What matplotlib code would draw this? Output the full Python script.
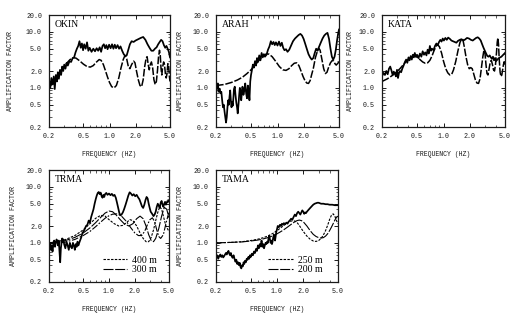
import numpy as np
import matplotlib
matplotlib.use("Agg")
import matplotlib.pyplot as plt
from matplotlib.ticker import NullFormatter, FixedLocator

# ---- data ----
okin_f = [0.200, 0.207, 0.213, 0.220, 0.227, 0.233, 0.240, 0.247, 0.253, 0.260, 0.268, 0.276, 0.284,
          0.292, 0.300, 0.310, 0.320, 0.330, 0.345, 0.360, 0.375, 0.390, 0.405, 0.420, 0.435, 0.450,
          0.465, 0.480, 0.495, 0.510, 0.530, 0.550, 0.570, 0.590, 0.620, 0.650, 0.680, 0.710, 0.740,
          0.770, 0.800, 0.830, 0.860, 0.890, 0.920, 0.950, 0.990, 1.030, 1.070, 1.110, 1.150, 1.190,
          1.240, 1.290, 1.340, 1.400, 1.460, 1.520, 1.580, 1.650, 1.720, 1.800, 1.900, 2.000, 2.150,
          2.300, 2.450, 2.600, 2.750, 2.900, 3.050, 3.200, 3.350, 3.500, 3.650, 3.800, 3.950, 4.100,
          4.250, 4.400, 4.550, 4.700, 4.850, 5.000]
okin_obs = [1.40, 1.00, 1.50, 1.15, 1.60, 0.95, 1.70, 1.30, 1.90, 1.45, 2.10, 1.70, 2.40,
            2.00, 2.60, 2.20, 2.80, 2.50, 3.00, 2.90, 3.40, 3.50, 4.30, 5.00, 5.60, 6.80,
            5.20, 6.20, 4.70, 6.00, 5.00, 6.50, 4.60, 5.20, 4.40, 5.00, 4.50, 5.10, 4.60,
            5.30, 4.40, 5.60, 6.00, 5.10, 5.80, 4.90, 5.90, 5.10, 6.00, 5.00, 5.90, 5.10,
            5.80, 5.00, 5.50, 4.60, 4.00, 3.70, 3.80, 4.80, 6.00, 6.80, 6.60, 7.00, 7.40,
            7.80, 8.10, 7.20, 6.00, 5.20, 4.60, 4.60, 5.00, 5.30, 6.00, 6.60, 7.20, 6.80,
            5.80, 5.20, 5.60, 5.00, 4.40, 3.50]
okin_mf = [0.200, 0.230, 0.260, 0.290, 0.320, 0.350, 0.380, 0.410, 0.450, 0.500, 0.550, 0.600, 0.650,
           0.700, 0.760, 0.800, 0.850, 0.900, 0.950, 1.000, 1.060, 1.130, 1.200, 1.280, 1.360, 1.440,
           1.510, 1.580, 1.650, 1.720, 1.800, 1.900, 1.970, 2.050, 2.150, 2.250, 2.350, 2.450, 2.550,
           2.650, 2.720, 2.800, 2.880, 2.960, 3.050, 3.150, 3.260, 3.370, 3.480, 3.580, 3.680, 3.780,
           3.860, 3.940, 4.020, 4.120, 4.220, 4.320, 4.420, 4.520, 4.620, 4.720, 4.820, 4.920, 5.000]
okin_mod = [1.02, 1.30, 1.75, 2.25, 2.75, 3.20, 3.45, 3.40, 3.05, 2.65, 2.40, 2.35, 2.50,
            2.85, 3.20, 3.10, 2.60, 2.00, 1.55, 1.25, 1.05, 1.00, 1.10, 1.50, 2.30, 3.20,
            3.80, 3.30, 2.40, 2.20, 2.60, 3.00, 2.80, 2.00, 1.40, 1.10, 1.05, 1.40, 2.40,
            3.40, 3.60, 2.60, 2.10, 2.60, 2.90, 2.30, 1.40, 1.15, 1.30, 2.00, 3.50, 4.70,
            3.80, 2.20, 1.70, 2.40, 2.90, 2.60, 1.80, 1.50, 1.80, 2.70, 2.50, 1.60, 1.30]

arah_f = [0.200, 0.205, 0.210, 0.215, 0.220, 0.225, 0.230, 0.235, 0.240, 0.245, 0.250, 0.255, 0.260,
          0.265, 0.270, 0.275, 0.280, 0.285, 0.290, 0.295, 0.300, 0.305, 0.310, 0.315, 0.320, 0.327,
          0.333, 0.340, 0.347, 0.353, 0.360, 0.367, 0.373, 0.380, 0.387, 0.393, 0.400, 0.410, 0.420,
          0.430, 0.440, 0.450, 0.460, 0.470, 0.480, 0.490, 0.500, 0.510, 0.525, 0.540, 0.555, 0.570,
          0.585, 0.600, 0.620, 0.640, 0.660, 0.680, 0.700, 0.720, 0.750, 0.780, 0.810, 0.840, 0.870,
          0.900, 0.930, 0.960, 1.000, 1.040, 1.080, 1.120, 1.160, 1.200, 1.250, 1.300, 1.360, 1.420,
          1.500, 1.580, 1.660, 1.740, 1.820, 1.900, 1.980, 2.060, 2.150, 2.250, 2.350, 2.450, 2.550,
          2.650, 2.750, 2.850, 2.950, 3.100, 3.250, 3.400, 3.550, 3.700, 3.850, 4.000, 4.150, 4.300,
          4.450, 4.600, 4.750, 4.900, 5.000]
arah_obs = [0.75, 1.10, 1.20, 0.85, 0.95, 0.80, 0.85, 0.60, 0.45, 0.50, 0.38, 0.30, 0.24,
            0.30, 0.45, 0.60, 0.50, 0.70, 0.90, 0.60, 0.45, 0.55, 0.48, 0.65, 0.95, 1.05,
            0.75, 0.55, 0.45, 0.35, 0.50, 0.75, 1.00, 0.90, 0.60, 0.80, 1.05, 0.75, 0.90,
            1.20, 0.80, 0.65, 1.10, 0.90, 0.60, 1.30, 1.70, 2.00, 2.60, 2.30, 3.00, 2.50,
            3.40, 2.90, 3.80, 3.10, 4.20, 3.50, 4.00, 3.60, 3.90, 4.80, 5.50, 6.80, 6.00,
            6.60, 5.80, 6.50, 5.70, 6.70, 5.60, 6.40, 5.20, 4.70, 4.90, 4.40, 4.80, 5.60,
            6.80, 7.60, 8.20, 8.80, 9.20, 8.60, 7.50, 6.20, 5.00, 4.00, 3.50, 3.20, 3.40,
            4.20, 5.00, 4.60, 5.30, 6.40, 7.60, 8.60, 9.20, 9.60, 7.50, 5.00, 3.60, 3.20,
            3.60, 4.80, 7.00, 9.50, 11.0]
arah_mf = [0.200, 0.250, 0.300, 0.350, 0.400, 0.450, 0.500, 0.550, 0.600, 0.650, 0.700, 0.750, 0.800,
           0.870, 0.950, 1.050, 1.150, 1.250, 1.350, 1.450, 1.550, 1.650, 1.750, 1.850, 1.950, 2.050,
           2.150, 2.250, 2.350, 2.450, 2.550, 2.700, 2.850, 2.950, 3.050, 3.200, 3.350, 3.500, 3.650,
           3.800, 4.000, 4.200, 4.350, 4.500, 4.650, 4.800, 5.000]
arah_mod = [1.10, 1.15, 1.25, 1.38, 1.55, 1.80, 2.10, 2.50, 2.95, 3.40, 3.80, 4.05, 4.00,
            3.60, 3.00, 2.40, 2.10, 2.05, 2.20, 2.50, 2.75, 2.80, 2.50, 2.00, 1.60, 1.35,
            1.22, 1.20, 1.35, 1.75, 2.20, 3.50, 4.60, 5.10, 4.70, 3.20, 2.20, 1.80, 1.90,
            2.30, 2.80, 3.10, 3.00, 2.70, 2.55, 2.70, 2.90]

kata_f = [0.200, 0.208, 0.216, 0.224, 0.232, 0.240, 0.248, 0.256, 0.264, 0.272, 0.280, 0.288, 0.296,
          0.304, 0.312, 0.320, 0.330, 0.340, 0.352, 0.364, 0.376, 0.388, 0.400, 0.412, 0.424, 0.436,
          0.448, 0.460, 0.472, 0.484, 0.500, 0.520, 0.540, 0.560, 0.580, 0.600, 0.620, 0.640, 0.660,
          0.680, 0.700, 0.720, 0.740, 0.770, 0.800, 0.830, 0.860, 0.890, 0.920, 0.950, 0.980, 1.010,
          1.050, 1.090, 1.130, 1.180, 1.230, 1.280, 1.340, 1.400, 1.460, 1.530, 1.600, 1.680, 1.760,
          1.850, 1.950, 2.050, 2.150, 2.250, 2.350, 2.450, 2.550, 2.650, 2.750, 2.850, 2.950, 3.050,
          3.150, 3.250, 3.350, 3.450, 3.550, 3.650, 3.750, 3.850, 3.950, 4.100, 4.250, 4.400, 4.550,
          4.700, 4.850, 5.000]
kata_obs = [1.60, 1.85, 1.70, 2.00, 1.75, 2.20, 2.40, 2.05, 1.70, 1.95, 1.80, 1.60, 2.10,
            1.50, 1.85, 2.00, 1.90, 2.20, 2.50, 2.90, 3.20, 2.80, 3.50, 3.10, 3.70, 3.20,
            3.90, 3.50, 4.20, 3.60, 3.90, 3.40, 4.10, 3.60, 4.50, 3.90, 4.30, 3.80, 4.80,
            4.10, 5.60, 4.60, 5.00, 4.70, 5.60, 6.20, 5.80, 6.60, 7.20, 6.70, 7.60, 7.00,
            7.80, 7.20, 7.90, 7.50, 7.00, 6.80, 6.60, 6.40, 6.90, 7.20, 7.40, 7.00, 7.30,
            7.80, 7.60, 7.20, 7.00, 7.40, 7.80, 8.00, 7.60, 7.00, 6.00, 5.20, 4.60, 4.10,
            3.70, 3.60, 3.80, 3.50, 3.30, 3.60, 3.10, 3.40, 3.00, 3.20, 3.40, 3.50, 3.60,
            3.80, 4.00, 4.20]
kata_mf = [0.200, 0.230, 0.260, 0.290, 0.320, 0.350, 0.380, 0.410, 0.440, 0.470, 0.500, 0.540, 0.580,
           0.620, 0.660, 0.700, 0.740, 0.780, 0.820, 0.860, 0.900, 0.950, 1.000, 1.060, 1.120, 1.180,
           1.240, 1.300, 1.380, 1.460, 1.540, 1.610, 1.660, 1.720, 1.800, 1.880, 1.960, 2.040, 2.120,
           2.200, 2.300, 2.400, 2.500, 2.600, 2.700, 2.800, 2.880, 2.960, 3.040, 3.120, 3.200, 3.300,
           3.400, 3.500, 3.600, 3.700, 3.800, 3.900, 4.000, 4.080, 4.150, 4.220, 4.300, 4.400, 4.500,
           4.600, 4.700, 4.800, 4.900, 5.000]
kata_mod = [1.30, 1.45, 1.65, 1.90, 2.20, 2.60, 3.00, 3.35, 3.60, 3.70, 3.55, 3.20, 2.90,
            2.75, 2.80, 3.10, 3.70, 4.60, 5.50, 5.90, 5.40, 4.20, 3.00, 2.20, 1.85, 1.70,
            1.75, 2.10, 3.00, 4.60, 6.50, 7.50, 7.30, 5.50, 3.60, 2.60, 2.20, 2.30, 2.20,
            1.80, 1.40, 1.22, 1.20, 1.45, 2.30, 3.60, 4.70, 4.20, 2.60, 1.80, 1.70, 2.20,
            2.90, 3.10, 2.60, 2.10, 2.00, 2.60, 4.20, 6.50, 7.80, 6.00, 3.20, 1.90, 1.60,
            1.70, 2.10, 2.60, 2.90, 2.60]

trma_f = [0.200, 0.205, 0.210, 0.215, 0.220, 0.225, 0.230, 0.235, 0.240, 0.245, 0.250, 0.255, 0.260,
          0.265, 0.270, 0.275, 0.280, 0.285, 0.290, 0.295, 0.300, 0.310, 0.320, 0.330, 0.340, 0.350,
          0.360, 0.370, 0.380, 0.390, 0.400, 0.410, 0.420, 0.430, 0.440, 0.450, 0.460, 0.475, 0.490,
          0.505, 0.520, 0.540, 0.560, 0.580, 0.600, 0.620, 0.640, 0.660, 0.680, 0.700, 0.720, 0.740,
          0.760, 0.780, 0.800, 0.820, 0.840, 0.860, 0.880, 0.900, 0.930, 0.960, 1.000, 1.040, 1.080,
          1.120, 1.160, 1.200, 1.240, 1.280, 1.320, 1.360, 1.400, 1.450, 1.500, 1.560, 1.620, 1.680,
          1.740, 1.800, 1.870, 1.940, 2.020, 2.100, 2.180, 2.260, 2.340, 2.420, 2.500, 2.580, 2.660,
          2.740, 2.820, 2.900, 2.980, 3.060, 3.140, 3.220, 3.300, 3.400, 3.500, 3.600, 3.700, 3.800,
          3.900, 4.000, 4.100, 4.200, 4.300, 4.400, 4.500, 4.600, 4.700, 4.800, 4.900, 5.000]
trma_obs = [0.80, 1.00, 0.75, 0.90, 0.70, 0.95, 1.10, 0.85, 1.00, 1.15, 1.05, 0.90, 1.10,
            0.70, 0.45, 0.80, 1.00, 1.20, 1.05, 1.15, 0.95, 0.80, 1.05, 0.90, 0.75, 1.00,
            0.85, 0.80, 1.00, 0.90, 0.75, 0.95, 0.85, 1.05, 0.90, 1.00, 1.10, 1.25, 1.50,
            1.60, 1.75, 2.00, 2.10, 2.50, 2.30, 2.90, 3.40, 4.00, 5.00, 6.00, 7.00, 7.80,
            8.10, 7.40, 7.90, 6.80, 6.40, 7.20, 6.60, 7.40, 7.80, 7.20, 7.60, 7.10, 7.50,
            6.90, 7.20, 6.40, 5.20, 4.20, 3.40, 3.10, 3.20, 3.50, 4.00, 4.80, 5.80, 7.00,
            8.00, 7.60, 7.00, 7.40, 6.80, 7.20, 6.50, 6.00, 5.20, 4.50, 4.20, 4.80, 5.80,
            6.60, 6.20, 5.00, 4.20, 3.60, 3.40, 3.20, 3.00, 3.20, 3.60, 4.40, 5.00, 4.60,
            4.20, 5.20, 5.60, 4.80, 4.40, 5.00, 5.40, 4.80, 5.20, 5.60, 5.40, 5.60]
trma_400_f = [0.20, 0.30, 0.40, 0.50, 0.60, 0.70, 0.80, 0.90, 1.00, 1.15, 1.30, 1.45, 1.60, 1.75,
              1.90, 2.10, 2.30, 2.50, 2.70, 2.90, 3.10, 3.30, 3.50, 3.70, 3.90, 4.10, 4.30, 4.60, 5.00]
trma_400 = [1.00, 1.12, 1.35, 1.70, 2.20, 2.75, 3.10, 3.00, 2.60, 2.20, 2.00, 2.05, 2.30, 2.60,
            2.50, 2.00, 1.50, 1.20, 1.05, 1.05, 1.25, 1.70, 2.50, 3.50, 4.40, 4.00, 3.00, 2.00, 1.60]
trma_300_f = [0.20, 0.30, 0.40, 0.50, 0.60, 0.70, 0.80, 0.90, 1.00, 1.10, 1.20, 1.35, 1.50, 1.70,
              1.90, 2.10, 2.30, 2.50, 2.70, 2.90, 3.10, 3.30, 3.50, 3.80, 4.10, 4.40, 4.70, 5.00]
trma_300 = [1.00, 1.08, 1.25, 1.50, 1.85, 2.30, 2.85, 3.40, 3.70, 3.60, 3.20, 2.60, 2.20, 2.00,
            2.20, 2.70, 3.00, 2.70, 2.00, 1.40, 1.10, 1.05, 1.20, 1.80, 3.00, 4.30, 4.00, 2.80]
trma_x_f = [0.20, 0.30, 0.40, 0.50, 0.60, 0.70, 0.80, 0.90, 1.00, 1.10, 1.25, 1.40, 1.60, 1.80,
            2.00, 2.20, 2.40, 2.60, 2.80, 3.00, 3.20, 3.40, 3.60, 3.80, 4.00, 4.30, 4.60, 5.00]
trma_x = [0.95, 1.02, 1.15, 1.35, 1.60, 1.95, 2.35, 2.75, 3.05, 3.25, 3.30, 3.00, 2.40, 1.85,
          1.50, 1.35, 1.35, 1.60, 2.10, 2.60, 2.80, 2.40, 1.70, 1.30, 1.20, 1.40, 2.20, 3.60]

tama_f = [0.200, 0.206, 0.212, 0.218, 0.224, 0.230, 0.236, 0.242, 0.248, 0.254, 0.260, 0.266, 0.272,
          0.278, 0.284, 0.290, 0.296, 0.302, 0.310, 0.318, 0.326, 0.334, 0.342, 0.350, 0.358, 0.366,
          0.374, 0.382, 0.390, 0.398, 0.406, 0.414, 0.422, 0.430, 0.440, 0.450, 0.460, 0.470, 0.480,
          0.490, 0.500, 0.515, 0.530, 0.545, 0.560, 0.575, 0.590, 0.605, 0.620, 0.635, 0.650, 0.665,
          0.680, 0.695, 0.710, 0.725, 0.740, 0.755, 0.770, 0.785, 0.800, 0.815, 0.830, 0.845, 0.860,
          0.875, 0.890, 0.905, 0.920, 0.935, 0.950, 0.965, 0.980, 1.000, 1.020, 1.050, 1.080, 1.110,
          1.140, 1.170, 1.200, 1.240, 1.280, 1.320, 1.360, 1.400, 1.450, 1.500, 1.550, 1.600, 1.650,
          1.700, 1.750, 1.800, 1.850, 1.900, 1.950, 2.000, 2.050, 2.100, 2.150, 2.200, 2.300, 2.400,
          2.500, 2.600, 2.700, 2.800, 2.900, 3.000, 3.200, 3.400, 3.600, 3.800, 4.000, 4.300, 4.600,
          5.000]
tama_obs = [0.55, 0.60, 0.52, 0.58, 0.62, 0.56, 0.60, 0.55, 0.58, 0.62, 0.66, 0.62, 0.68,
            0.72, 0.64, 0.60, 0.66, 0.58, 0.54, 0.60, 0.52, 0.46, 0.50, 0.42, 0.45, 0.40,
            0.44, 0.37, 0.35, 0.40, 0.38, 0.45, 0.42, 0.48, 0.45, 0.52, 0.50, 0.56, 0.52,
            0.60, 0.56, 0.64, 0.60, 0.70, 0.66, 0.78, 0.72, 0.90, 0.80, 0.95, 0.86, 1.10,
            0.85, 0.95, 0.80, 0.90, 1.00, 0.95, 1.05, 1.00, 1.20, 1.35, 1.15, 1.00, 1.10,
            0.95, 1.05, 1.25, 1.40, 1.20, 1.10, 1.30, 1.55, 1.75, 2.00, 1.90, 2.10, 2.00,
            2.20, 2.10, 2.25, 2.15, 2.30, 2.20, 2.40, 2.50, 2.70, 2.60, 2.90, 3.20, 3.00,
            3.40, 3.60, 3.40, 3.20, 3.50, 3.80, 3.60, 3.30, 3.50, 3.40, 3.60, 3.90, 4.20,
            4.50, 4.80, 5.00, 5.10, 5.20, 5.20, 5.00, 5.00, 4.90, 4.90, 4.80, 4.80, 4.70,
            4.70]
tama_250_f = [0.20, 0.30, 0.40, 0.50, 0.60, 0.70, 0.80, 0.90, 1.00, 1.10, 1.20, 1.30, 1.40, 1.50,
              1.60, 1.70, 1.80, 1.90, 2.00, 2.20, 2.40, 2.60, 2.80, 3.00, 3.20, 3.40, 3.60, 3.80,
              4.00, 4.20, 4.40, 4.60, 4.80, 5.00]
tama_250 = [1.00, 1.02, 1.05, 1.10, 1.16, 1.24, 1.34, 1.48, 1.65, 1.85, 2.05, 2.25, 2.40, 2.48,
            2.45, 2.30, 2.05, 1.80, 1.60, 1.32, 1.16, 1.08, 1.06, 1.10, 1.20, 1.38, 1.65, 2.05,
            2.60, 3.10, 3.30, 3.00, 2.50, 2.20]
tama_200_f = [0.20, 0.30, 0.40, 0.50, 0.60, 0.70, 0.80, 0.90, 1.00, 1.10, 1.20, 1.30, 1.40, 1.50,
              1.60, 1.70, 1.80, 1.90, 2.00, 2.20, 2.40, 2.60, 2.80, 3.00, 3.20, 3.40, 3.60, 3.80,
              4.00, 4.20, 4.40, 4.60, 4.80, 5.00]
tama_200 = [1.00, 1.02, 1.04, 1.08, 1.12, 1.18, 1.25, 1.34, 1.45, 1.58, 1.72, 1.88, 2.05, 2.22,
            2.38, 2.50, 2.55, 2.50, 2.38, 2.00, 1.65, 1.42, 1.30, 1.24, 1.22, 1.24, 1.32, 1.45,
            1.65, 1.90, 2.20, 2.55, 2.85, 3.00]

xticks = [0.2, 0.5, 1.0, 2.0, 5.0]
yticks = [0.2, 0.5, 1.0, 2.0, 5.0, 10.0, 20.0]

INK = "#1a1a1a"
MONO = "Liberation Mono"
SERIF = "Liberation Serif"

fig = plt.figure(figsize=(5.2, 3.13), dpi=100)
W, H = 520.0, 313.0


def make_ax(l, r, t, b):
    return fig.add_axes([l / W, 1 - b / H, (r - l) / W, (b - t) / H])


def style(ax, name, ylab_x):
    ax.set_xscale("log")
    ax.set_yscale("log")
    ax.set_xlim(0.2, 5.0)
    ax.set_ylim(0.2, 20.0)
    ax.xaxis.set_major_locator(FixedLocator(xticks))
    ax.yaxis.set_major_locator(FixedLocator(yticks))
    ax.set_xticklabels(["%.1f" % v for v in xticks], fontfamily=MONO, fontsize=4.8, color=INK)
    ax.set_yticklabels(["%.1f" % v for v in yticks], fontfamily=MONO, fontsize=4.8, color=INK)
    ax.xaxis.set_minor_formatter(NullFormatter())
    ax.yaxis.set_minor_formatter(NullFormatter())
    ax.tick_params(which="both", direction="in", top=True, right=True, colors=INK)
    ax.tick_params(which="major", length=3.2, width=0.7)
    ax.tick_params(which="minor", length=1.8, width=0.5)
    ax.tick_params(axis="x", which="major", pad=4)
    ax.tick_params(axis="y", which="major", pad=5)
    for s in ax.spines.values():
        s.set_linewidth(0.9)
        s.set_color(INK)
    ax.set_xlabel("FREQUENCY (HZ)", fontfamily=MONO, fontsize=4.7, color=INK)
    ax.set_ylabel("AMPLIFICATION FACTOR", fontfamily=MONO, fontsize=4.8, color=INK)
    ax.xaxis.set_label_coords(0.5, -0.215)
    ax.yaxis.set_label_coords(ylab_x, 0.5)
    ax.text(0.05, 0.955, name, transform=ax.transAxes, va="top", ha="left",
            fontfamily=SERIF, fontsize=7, color="black")


long_dash = (5, 1.2)

ax1 = make_ax(49, 170, 15, 127)
ax1.plot(okin_f, okin_obs, color="black", lw=1.25)
ax1.plot(okin_mf, okin_mod, color="black", lw=1.1, dashes=long_dash)
style(ax1, "OKIN", -0.29)

ax2 = make_ax(216, 339, 15, 127)
ax2.plot(arah_f, arah_obs, color="black", lw=1.25)
ax2.plot(arah_mf, arah_mod, color="black", lw=1.1, dashes=long_dash)
style(ax2, "ARAH", -0.26)

ax3 = make_ax(382, 505, 15, 127)
ax3.plot(kata_f, kata_obs, color="black", lw=1.25)
ax3.plot(kata_mf, kata_mod, color="black", lw=1.1, dashes=long_dash)
style(ax3, "KATA", -0.23)

ax4 = make_ax(49, 169, 170, 282)
ax4.plot(trma_f, trma_obs, color="black", lw=1.25)
h400, = ax4.plot(trma_400_f, trma_400, color="black", lw=0.8, dashes=(2.2, 1.2), label="400 m")
h300, = ax4.plot(trma_300_f, trma_300, color="black", lw=0.8, dashes=(9, 1.5), label="300 m")
ax4.plot(trma_x_f, trma_x, color="black", lw=0.8, dashes=(6, 1.5, 1.5, 1.5))
style(ax4, "TRMA", -0.27)
ax4.legend(handles=[h400, h300], loc="upper left", bbox_to_anchor=(0.41, 0.28),
           frameon=False, borderpad=0, handlelength=2.5, handletextpad=0.5,
           labelspacing=0.1, prop={"family": SERIF, "size": 7})

ax5 = make_ax(216, 338, 170, 282)
ax5.plot(tama_f, tama_obs, color="black", lw=1.25)
h250, = ax5.plot(tama_250_f, tama_250, color="black", lw=0.8, dashes=(2.2, 1.2), label="250 m")
h200, = ax5.plot(tama_200_f, tama_200, color="black", lw=0.8, dashes=(9, 1.5), label="200 m")
style(ax5, "TAMA", -0.26)
ax5.legend(handles=[h250, h200], loc="upper left", bbox_to_anchor=(0.39, 0.28),
           frameon=False, borderpad=0, handlelength=2.5, handletextpad=0.5,
           labelspacing=0.1, prop={"family": SERIF, "size": 7})

fig.savefig("out.png", dpi=100, facecolor="white")
